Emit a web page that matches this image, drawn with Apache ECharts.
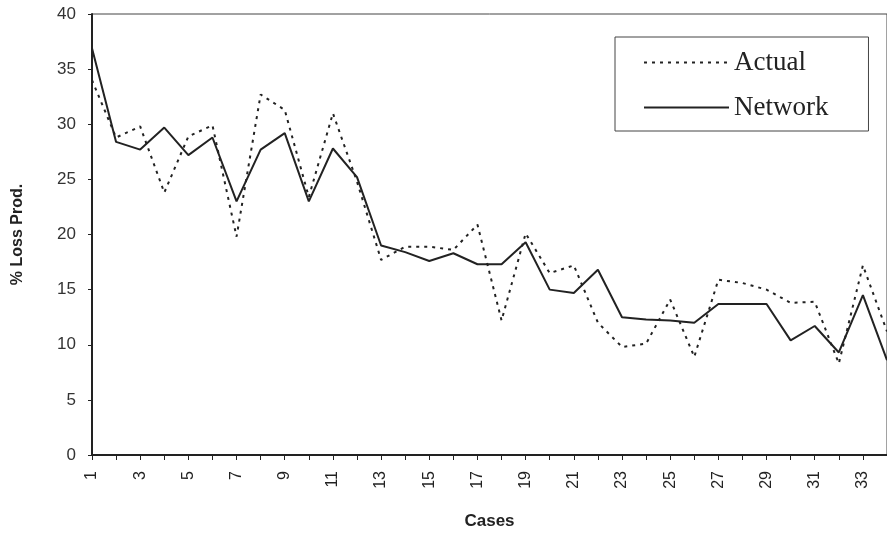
<!DOCTYPE html>
<html>
<head>
<meta charset="utf-8">
<script src="https://cdn.jsdelivr.net/npm/echarts@6/dist/echarts.min.js"></script>
<style>
  html, body { margin: 0; padding: 0; background: #fff; }
  #chart { width: 887px; height: 539px; }
</style>
</head>
<body>
<div id="chart"></div>
<script>
var cases = [];
for (var i = 1; i <= 34; i++) cases.push(String(i));

var actual = [34.0, 28.8, 29.8, 23.8, 28.9, 29.9, 19.8, 32.7, 31.3, 23.4,
              31.0, 24.8, 17.7, 18.9, 18.9, 18.6, 20.9, 12.2, 20.1, 16.5,
              17.2, 12.0, 9.8, 10.1, 14.1, 8.9, 15.9, 15.6, 15.0, 13.8,
              13.9, 8.3, 17.2, 11.2];

var network = [36.9, 28.4, 27.7, 29.7, 27.2, 28.8, 23.0, 27.7, 29.2, 23.0,
               27.8, 25.2, 19.0, 18.4, 17.6, 18.3, 17.3, 17.3, 19.3, 15.0,
               14.7, 16.8, 12.5, 12.3, 12.2, 12.0, 13.7, 13.7, 13.7, 10.4,
               11.7, 9.3, 14.5, 8.6];

var ink = '#222';
var sans = 'Liberation Sans, Arial, sans-serif';

var ele = document.getElementById('chart');
var ins = echarts.init(ele);

ins.setOption({
  backgroundColor: '#fff',
  animation: false,
  grid: {
    left: 92,
    top: 14,
    width: 802,
    height: 441,
    show: true,
    borderColor: '#444',
    borderWidth: 1
  },
  legend: {
    orient: 'vertical',
    left: 615,
    top: 37,
    itemWidth: 85,
    itemHeight: 14,
    itemGap: 18,
    padding: [12, 40, 10, 28],
    borderColor: '#444',
    borderWidth: 1,
    backgroundColor: '#fff',
    itemStyle: { color: 'transparent', borderWidth: 0 },
    textStyle: { fontFamily: 'Liberation Serif, Times New Roman, serif', fontSize: 27, color: ink },
    data: ['Actual', 'Network']
  },
  xAxis: {
    type: 'category',
    data: cases,
    boundaryGap: false,
    name: 'Cases',
    nameLocation: 'middle',
    nameGap: 58,
    nameTextStyle: { fontFamily: sans, fontWeight: 'bold', fontSize: 17, color: ink },
    axisLine: { lineStyle: { color: ink, width: 2 } },
    axisTick: { show: true, interval: 0, length: 5, lineStyle: { color: ink } },
    axisLabel: { interval: 1, rotate: 90, margin: 16, fontFamily: sans, fontSize: 16, color: ink },
    splitLine: { show: false }
  },
  yAxis: {
    type: 'value',
    min: 0,
    max: 40,
    interval: 5,
    name: '% Loss Prod.',
    nameLocation: 'middle',
    nameGap: 66,
    nameTextStyle: { fontFamily: sans, fontWeight: 'bold', fontSize: 16, color: ink },
    axisLine: { show: true, lineStyle: { color: ink, width: 2 } },
    axisTick: { show: true, length: 4, lineStyle: { color: ink } },
    axisLabel: { margin: 16, fontFamily: sans, fontSize: 17, color: '#333' },
    splitLine: { show: false }
  },
  series: [
    {
      name: 'Actual',
      type: 'line',
      data: actual,
      symbol: 'none',
      color: ink,
      lineStyle: { color: ink, width: 2, type: [3, 5] }
    },
    {
      name: 'Network',
      type: 'line',
      data: network,
      symbol: 'none',
      color: ink,
      lineStyle: { color: ink, width: 2 }
    }
  ]
});
</script>
</body>
</html>
